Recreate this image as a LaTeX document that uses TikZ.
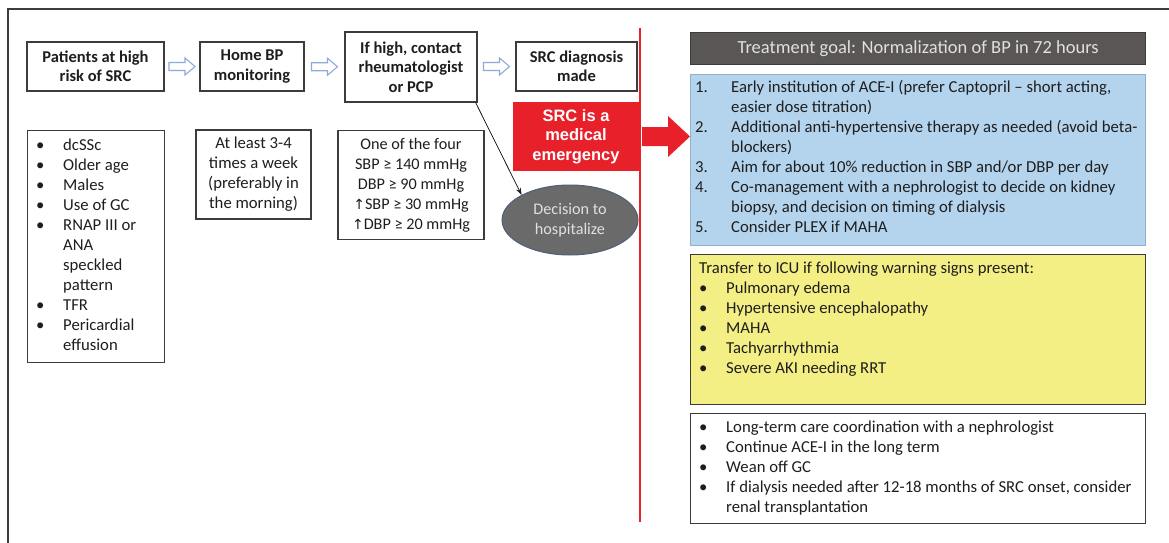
\documentclass[tikz,border=0pt]{standalone}
\usepackage{fontspec}
\setmainfont{Carlito}
\newfontfamily\arialf{Liberation Sans}
\newfontfamily\dejavu{DejaVu Sans}
\usetikzlibrary{shapes.geometric,arrows.meta}
\definecolor{txt}{HTML}{1E1E1E}
\definecolor{frameC}{HTML}{3C3C3C}
\definecolor{srcred}{HTML}{E8202A}
\definecolor{hdrgray}{HTML}{5A5656}
\definecolor{ellgray}{HTML}{6A6A6A}
\definecolor{ellline}{HTML}{4F5F7A}
\definecolor{bluefill}{HTML}{B4D4EE}
\definecolor{blueline}{HTML}{8FB0CF}
\definecolor{yellowfill}{HTML}{F3EF85}
\definecolor{arrowblue}{HTML}{8EAADB}
\newcommand{\bul}[1]{\makebox[27pt][l]{\textbullet}#1}
\newcommand{\ind}[1]{\hspace*{27pt}#1}
\newcommand{\rbul}[1]{\makebox[27pt][l]{\textbullet}#1}
\newcommand{\rind}[1]{\hspace*{27pt}#1}
\newcommand{\numi}[2]{\makebox[36pt][l]{#1}#2}
\newcommand{\nind}[1]{\hspace*{36pt}#1}
\newcommand{\up}{{\dejavu\fontsize{14}{20}\selectfont ↑}}
\newcommand{\harrow}[1]{\draw[hollowline] ([shift={(-13,-4)}]#1) -- ([shift={(3,-4)}]#1) -- ([shift={(3,-8.5)}]#1) -- ([shift={(13,0)}]#1) -- ([shift={(3,8.5)}]#1) -- ([shift={(3,4)}]#1) -- ([shift={(-13,4)}]#1) -- cycle;}
\begin{document}
\begin{tikzpicture}[x=1pt,y=-1pt,
  box/.style={draw=frameC, line width=1.3pt, fill=white, inner sep=0pt},
  titlebox/.style={box, font=\bfseries\fontsize{16.5}{19.5}\selectfont, text=txt, align=center},
  plainbox/.style={box, font=\fontsize{16.7}{20}\selectfont, text=txt, align=center},
  lst/.style={inner sep=0pt, anchor=north west, align=left, text=txt, font=\fontsize{16.7}{20}\selectfont},
  hollowline/.style={draw=arrowblue, fill=white, line width=1.1pt, line join=miter},
  panel/.style={anchor=north west, minimum width=455pt, inner sep=0pt}
]
\useasboundingbox (0,0) rectangle (1169,543);
\fill[white] (0,0) rectangle (1169,543);
\draw[frameC, line width=1.8pt] (8,546) -- (8,9) -- (1172,9);

% top flow
\node[titlebox, minimum width=137pt, minimum height=49pt] (b1) at (95.5,66.5) {Patients at high\\risk of SRC};
\node[titlebox, minimum width=104pt, minimum height=49pt] (b2) at (252,66.5) {Home BP\\monitoring};
\node[titlebox, minimum width=132pt, minimum height=70pt] (b3) at (411,67) {If high, contact\\rheumatologist\\or PCP};
\node[titlebox, minimum width=121pt, minimum height=49pt] (b4) at (576.5,66.5) {SRC diagnosis\\made};
\path (b1.east) -- (b2.west) coordinate[midway] (a1);
\path (b2.east) -- (b3.west) coordinate[midway] (a2);
\path (b3.east |- b4.west) -- (b4.west) coordinate[midway] (a3);
\harrow{a1}
\harrow{a2}
\harrow{a3}

% emergency
\node[fill=srcred, minimum width=126pt, minimum height=69pt, inner sep=0pt, text=white,
  font=\arialf\bfseries\fontsize{16.5}{19.5}\selectfont, align=center] (emerg) at (576,136.5) {SRC is a\\medical\\emergency};
\draw[srcred, line width=2.5pt] (640,28) -- (640,522);

\node[ellipse, fill=ellgray, draw=ellline, line width=1pt, minimum width=136pt, minimum height=70pt, inner sep=0pt,
  text=white!88!black, font=\fontsize{16.2}{20}\selectfont, align=center] (dec) at (570,220) {Decision to\\hospitalize};
\draw[txt, line width=0.8pt, -{Stealth[length=7pt,width=5pt]}] ([xshift=-2pt]b3.south east) -- (dec.north west);

% lower left boxes
\node[box, anchor=north west, minimum width=137pt, minimum height=232pt] (risk) at (27,130) {};
\node[lst] (risktext) at (36,136) {\strut\bul{dcSSc}\\
\bul{Older age}\\
\bul{Males}\\
\bul{Use of GC}\\
\bul{RNAP III or}\\
\ind{ANA}\\
\ind{speckled}\\
\ind{pattern}\\
\bul{TFR}\\
\bul{Pericardial}\\
\ind{effusion}};
\node[plainbox, minimum width=115pt, minimum height=89pt] (freq) at (253.5,174.5) {At least 3-4\\times a week\\(preferably in\\the morning)};
\node[plainbox, minimum width=146pt, minimum height=109pt, font=\fontsize{16.2}{20}\selectfont] (crit) at (411,185) {One of the four\\SBP ≥ 140 mmHg\\DBP ≥ 90 mmHg\\\up SBP ≥ 30 mmHg\\\up DBP ≥ 20 mmHg};

% right column
\node[panel, draw=frameC, line width=1.3pt, fill=hdrgray, minimum height=32pt, text=white!88!black,
  font=\fontsize{18.5}{20}\selectfont] (goal) at (690,32) {Treatment goal: Normalization of BP in 72 hours};
\node[panel, draw=blueline, line width=1pt, fill=bluefill, minimum height=171pt] (treat) at (690,74) {};
\node[lst] (treattext) at (695,78) {\strut\numi{1.}{Early institution of ACE-I (prefer Captopril – short acting,}\\
\nind{easier dose titration)}\\
\numi{2.}{Additional anti-hypertensive therapy as needed (avoid beta-}\\
\nind{blockers)}\\
\numi{3.}{Aim for about 10\% reduction in SBP and/or DBP per day}\\
\numi{4.}{Co-management with a nephrologist to decide on kidney}\\
\nind{biopsy, and decision on timing of dialysis}\\
\numi{5.}{Consider PLEX if MAHA}};
\node[panel, draw=frameC, line width=1.3pt, fill=yellowfill, minimum height=150pt] (icu) at (690,254) {};
\node[lst] (icutext) at (699,259) {\strut Transfer to ICU if following warning signs present:\\
\rbul{Pulmonary edema}\\
\rbul{Hypertensive encephalopathy}\\
\rbul{MAHA}\\
\rbul{Tachyarrhythmia}\\
\rbul{Severe AKI needing RRT}};
\node[panel, draw=frameC, line width=1.3pt, fill=white, minimum height=110pt] (long) at (690,413) {};
\node[lst] (longtext) at (699,418) {\strut\rbul{Long-term care coordination with a nephrologist}\\
\rbul{Continue ACE-I in the long term}\\
\rbul{Wean off GC}\\
\rbul{If dialysis needed after 12-18 months of SRC onset, consider}\\
\rind{renal transplantation}};

% big red arrow
\fill[srcred] ([xshift=3pt]emerg.east |- 0,127) -- (668,127) -- (668,116) -- (treat.west |- 0,136.5) -- (668,157) -- (668,146) -- ([xshift=3pt]emerg.east |- 0,146) -- cycle;
\end{tikzpicture}
\end{document}
